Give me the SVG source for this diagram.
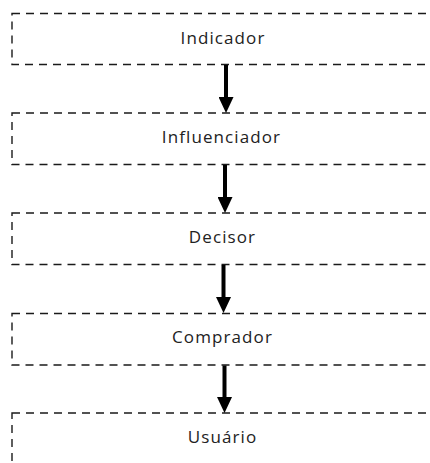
<svg xmlns="http://www.w3.org/2000/svg" width="430" height="463" viewBox="0 0 430 463">
  <style>
    .box { fill: #ffffff; stroke: #1a1a1a; stroke-width: 1.4; stroke-dasharray: 8 6; }
    .label { font-family: "Open Sans", "DejaVu Sans", sans-serif; font-size: 17px; letter-spacing: 1.1px; fill: #222222; text-anchor: middle; }
    .flow { stroke: #000000; stroke-width: 4; fill: none; marker-end: url(#head); }
  </style>
  <defs>
    <marker id="head" markerUnits="userSpaceOnUse" viewBox="0 0 16 15" markerWidth="16" markerHeight="15" refX="1" refY="7.5" orient="auto">
      <path d="M0,0 L16,7.5 L0,15 Z" fill="#000000"/>
    </marker>
  </defs>
  <rect width="430" height="463" fill="#ffffff"/>

  <g id="indicador">
    <rect class="box" x="12" y="13.5" width="440" height="51"/>
    <text class="label" x="223" y="43.5">Indicador</text>
  </g>
  <g id="influenciador">
    <rect class="box" x="12" y="113" width="440" height="51.5"/>
    <text class="label" x="221.5" y="142.5">Influenciador</text>
  </g>
  <g id="decisor">
    <rect class="box" x="12" y="213" width="440" height="51.5"/>
    <text class="label" x="222.5" y="242.5">Decisor</text>
  </g>
  <g id="comprador">
    <rect class="box" x="12" y="313.5" width="440" height="51.5"/>
    <text class="label" x="222.5" y="342.5">Comprador</text>
  </g>
  <g id="usuario">
    <rect class="box" x="12" y="413" width="440" height="60"/>
    <text class="label" x="222.5" y="443">Usuário</text>
  </g>

  <g id="connectors">
    <line class="flow" x1="226" y1="65" x2="226" y2="98"/>
    <line class="flow" x1="225" y1="165" x2="225" y2="198"/>
    <line class="flow" x1="223.5" y1="265" x2="223.5" y2="298"/>
    <line class="flow" x1="224.5" y1="365.5" x2="224.5" y2="398"/>
  </g>
</svg>
